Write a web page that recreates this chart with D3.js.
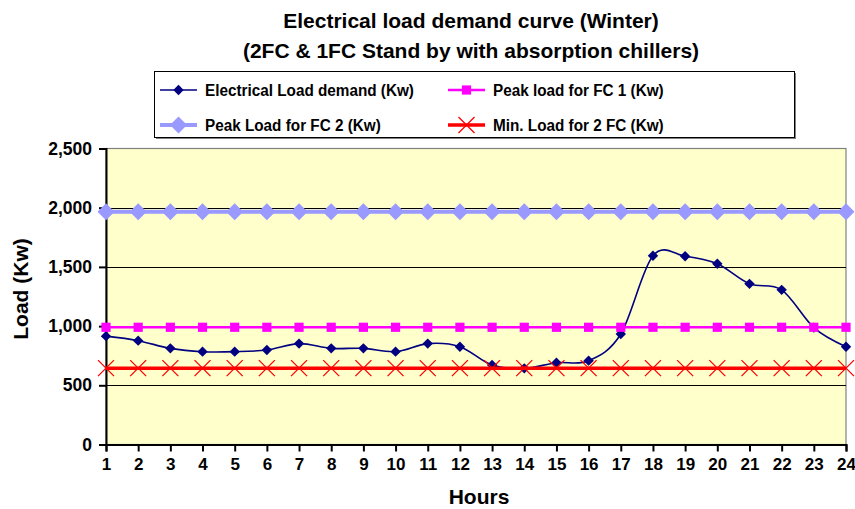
<!DOCTYPE html>
<html>
<head>
<meta charset="utf-8">
<script src="https://cdn.jsdelivr.net/npm/d3@7"></script>
<style>
  html, body { margin: 0; padding: 0; background: #ffffff; }
  svg { display: block; font-family: "Liberation Sans", Arial, sans-serif; font-weight: bold; }
</style>
</head>
<body>
<svg id="chart" width="855" height="509"></svg>
<script>
// Hours of the day (category axis)
const hours = [1, 2, 3, 4, 5, 6, 7, 8, 9, 10, 11, 12, 13, 14, 15, 16, 17, 18, 19, 20, 21, 22, 23, 24];

// Electrical load demand per hour (kW)
const loadDemand = [915, 877, 812, 784, 784, 798, 852, 812, 812, 784, 852, 826,
                    671, 643, 691, 708, 933, 1594, 1590, 1526, 1357, 1306, 987, 826];

// Peak load of fuel cell 1 (kW)
const peakFC1 = [990, 990, 990, 990, 990, 990, 990, 990, 990, 990, 990, 990,
                 990, 990, 990, 990, 990, 990, 990, 990, 990, 990, 990, 990];

// Peak load of fuel cell 2 (kW)
const peakFC2 = [1965, 1965, 1965, 1965, 1965, 1965, 1965, 1965, 1965, 1965, 1965, 1965,
                 1965, 1965, 1965, 1965, 1965, 1965, 1965, 1965, 1965, 1965, 1965, 1965];

// Minimum load for running 2 fuel cells (kW)
const minLoad2FC = [645, 645, 645, 645, 645, 645, 645, 645, 645, 645, 645, 645,
                    645, 645, 645, 645, 645, 645, 645, 645, 645, 645, 645, 645];

const yTicks = [0, 500, 1000, 1500, 2000, 2500];

const seriesNames = [
  "Electrical Load demand (Kw)",
  "Peak load for FC 1 (Kw)",
  "Peak Load for FC 2 (Kw)",
  "Min. Load for 2 FC (Kw)"
];

const svg = d3.select("#chart");

const plot = { left: 106, right: 846, top: 148.5, bottom: 444.5 };

const x = d3.scaleLinear().domain([1, 24]).range([plot.left, plot.right]);
const y = d3.scaleLinear().domain([0, 2500]).range([plot.bottom, plot.top]);

// Titles
svg.append("text").attr("x", 471).attr("y", 28).attr("text-anchor", "middle")
  .attr("font-size", 21).text("Electrical load demand curve (Winter)");
svg.append("text").attr("x", 471).attr("y", 58).attr("text-anchor", "middle")
  .attr("font-size", 21).text("(2FC & 1FC Stand by with absorption chillers)");

// Plot background
svg.append("rect")
  .attr("x", plot.left).attr("y", plot.top)
  .attr("width", plot.right - plot.left).attr("height", plot.bottom - plot.top)
  .attr("fill", "#ffffcc").attr("stroke", "#808080").attr("stroke-width", 1.2);

// Horizontal gridlines
svg.append("g").selectAll("line")
  .data(yTicks.filter(d => d > 0 && d < 2500))
  .join("line")
  .attr("x1", plot.left).attr("x2", plot.right)
  .attr("y1", d => Math.round(y(d)) + 0.5).attr("y2", d => Math.round(y(d)) + 0.5)
  .attr("stroke", "#000").attr("stroke-width", 1);

// Axes
const yAxis = d3.axisLeft(y).tickValues(yTicks).tickSize(7).tickPadding(7)
  .tickFormat(d3.format(","));
const gy = svg.append("g").attr("transform", `translate(${plot.left},0)`).call(yAxis);
gy.select(".domain").attr("stroke", "#000").attr("stroke-width", 2);
gy.selectAll(".tick line").attr("stroke", "#000").attr("stroke-width", 2);
gy.selectAll(".tick text").attr("font-size", 17.5).attr("font-family", "Liberation Sans, Arial, sans-serif")
  .attr("font-weight", "bold").attr("fill", "#000");

const xAxis = d3.axisBottom(x).tickValues(hours).tickSize(7).tickPadding(6)
  .tickFormat(d => d);
const gx = svg.append("g").attr("transform", `translate(0,${plot.bottom})`).call(xAxis);
gx.select(".domain").attr("stroke", "#000").attr("stroke-width", 2);
gx.selectAll(".tick line").attr("stroke", "#000").attr("stroke-width", 2);
gx.selectAll(".tick text").attr("font-size", 17).attr("font-family", "Liberation Sans, Arial, sans-serif")
  .attr("font-weight", "bold").attr("fill", "#000");

// Axis titles
svg.append("text").attr("x", 479).attr("y", 504).attr("text-anchor", "middle")
  .attr("font-size", 21).text("Hours");
svg.append("text").attr("transform", "translate(28,289) rotate(-90)")
  .attr("text-anchor", "middle").attr("font-size", 21).text("Load (Kw)");

// Marker shapes
function diamond(s) { return `M0,${-s}L${s},0L0,${s}L${-s},0Z`; }
function square(s) { return `M${-s},${-s}H${s}V${s}H${-s}Z`; }
function cross(s) { return `M${-s},${-s}L${s},${s}M${-s},${s}L${s},${-s}`; }

const series = [
  { name: seriesNames[0], values: loadDemand, color: "#000080", width: 1.6,
    curve: d3.curveCatmullRom.alpha(0), marker: diamond(5.2), mfill: "#000080", mstroke: "none", mwidth: 0 },
  { name: seriesNames[1], values: peakFC1, color: "#ff00ff", width: 2.5,
    curve: d3.curveLinear, marker: square(4.6), mfill: "#ff00ff", mstroke: "none", mwidth: 0 },
  { name: seriesNames[2], values: peakFC2, color: "#9999ff", width: 4,
    curve: d3.curveLinear, marker: diamond(8.5), mfill: "#9999ff", mstroke: "none", mwidth: 0 },
  { name: seriesNames[3], values: minLoad2FC, color: "#ff0000", width: 3.5,
    curve: d3.curveLinear, marker: cross(8), mfill: "none", mstroke: "#ff0000", mwidth: 1.3 }
];

const plotG = svg.append("g");
series.forEach(s => {
  const line = d3.line().x((d, i) => x(hours[i])).y(d => y(d)).curve(s.curve);
  const g = plotG.append("g");
  g.append("path").attr("d", line(s.values)).attr("fill", "none")
    .attr("stroke", s.color).attr("stroke-width", s.width);
  g.selectAll("path.m").data(s.values).join("path").attr("class", "m")
    .attr("transform", (d, i) => `translate(${x(hours[i])},${y(d)})`)
    .attr("d", s.marker).attr("fill", s.mfill)
    .attr("stroke", s.mstroke).attr("stroke-width", s.mwidth);
});

// Legend
const legend = svg.append("g");
legend.append("rect").attr("x", 156).attr("y", 73).attr("width", 640).attr("height", 66)
  .attr("fill", "#808080");
legend.append("rect").attr("x", 154.5).attr("y", 71.5).attr("width", 640).attr("height", 66)
  .attr("fill", "#ffffff").attr("stroke", "#000").attr("stroke-width", 1);

const legendPos = [
  { lx: 160, ty: 90 }, { lx: 448, ty: 90 },
  { lx: 160, ty: 125 }, { lx: 448, ty: 125 }
];
series.forEach((s, i) => {
  const p = legendPos[i];
  const g = legend.append("g");
  g.append("line").attr("x1", p.lx).attr("x2", p.lx + 37)
    .attr("y1", p.ty).attr("y2", p.ty)
    .attr("stroke", s.color).attr("stroke-width", s.width);
  g.append("path").attr("transform", `translate(${p.lx + 18.5},${p.ty})`)
    .attr("d", s.marker).attr("fill", s.mfill)
    .attr("stroke", s.mstroke).attr("stroke-width", s.mwidth);
  // slightly condensed label text
  g.append("text")
    .attr("transform", `translate(${p.lx + 45},${p.ty + 6}) scale(0.9,1)`)
    .attr("font-size", 17).text(s.name);
});
</script>
</body>
</html>
